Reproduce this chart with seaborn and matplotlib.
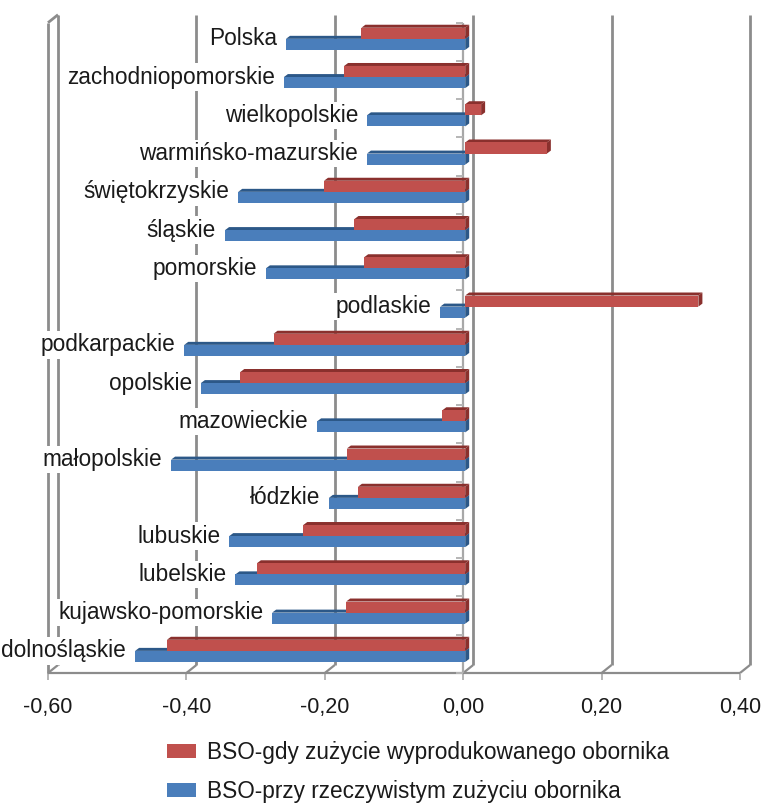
import matplotlib
matplotlib.use("Agg")
import numpy as np
import pandas as pd
import seaborn as sns
import matplotlib.pyplot as plt
from matplotlib.transforms import Affine2D, IdentityTransform
from matplotlib.patches import Polygon, Patch
from matplotlib.lines import Line2D

# Bilans substancji organicznej (BSO) by voivodeship
regions = ["Polska", "zachodniopomorskie", "wielkopolskie", "warmińsko-mazurskie",
           "świętokrzyskie", "śląskie", "pomorskie", "podlaskie", "podkarpackie",
           "opolskie", "mazowieckie", "małopolskie", "łódzkie", "lubuskie",
           "lubelskie", "kujawsko-pomorskie", "dolnośląskie"]
bso_produced = [-0.150, -0.175, 0.023, 0.118, -0.204, -0.160, -0.146, 0.337, -0.277,
                -0.325, -0.033, -0.171, -0.155, -0.234, -0.301, -0.172, -0.431]
bso_actual = [-0.259, -0.262, -0.142, -0.142, -0.328, -0.347, -0.288, -0.036, -0.406,
              -0.382, -0.214, -0.425, -0.197, -0.341, -0.332, -0.279, -0.477]
series_names = ["BSO-gdy zużycie wyprodukowanego obornika",
                "BSO-przy rzeczywistym zużyciu obornika"]
x_ticks = [-0.6, -0.4, -0.2, 0.0, 0.2, 0.4]
x_tick_labels = ["-0,60", "-0,40", "-0,20", "0,00", "0,20", "0,40"]

face_colors = {series_names[0]: "#C0504D", series_names[1]: "#4A7EBB"}
shade_colors = {series_names[0]: "#8A302D", series_names[1]: "#2C5888"}
grid_color = "#8C8C8C"
axis_color = "#A8A8A8"
text_color = "#1A1A1A"
FS_TICK = 15.5
FS_LABEL = 16.3

df = pd.DataFrame({
    "region": regions * 2,
    "value": bso_produced + bso_actual,
    "series": [series_names[0]] * len(regions) + [series_names[1]] * len(regions),
})

sns.set_theme(style="white")
plt.rcParams["font.family"] = ["Liberation Sans", "DejaVu Sans"]

W, H = 765, 805
fig = plt.figure(figsize=(W / 100, H / 100), dpi=100)
ax = fig.add_axes([48 / W, 1 - 673 / H, (740 - 48) / W, (673 - 22.7) / H])

sns.barplot(data=df, y="region", x="value", hue="series", orient="h",
            palette=face_colors, width=0.58, dodge=True, saturation=1,
            legend=False, linewidth=0, ax=ax)

n = len(regions)
ax.set_xlim(-0.6, 0.4)
ax.set_ylim(n - 0.5, -0.5)
for s in ax.spines.values():
    s.set_visible(False)
ax.set_xlabel("")
ax.set_ylabel("")
ax.set_yticks([])
ax.set_xticks(x_ticks)
ax.set_xticklabels(x_tick_labels, fontsize=FS_TICK, color=text_color)
ax.tick_params(axis="x", length=0, pad=17)
ax.patch.set_visible(False)
ax.grid(False)

ident = IdentityTransform()
BACK = np.array([10.0, 8.0])       # offset of the back wall, pixels
BAR_SHIFT = np.array([2.0, 3.0])   # bars sit slightly behind the front plane
DX, DY = 4.0, 3.0                  # bar depth, pixels


def disp(x, y, off=(0.0, 0.0)):
    return ax.transData.transform((x, y)) + np.asarray(off)


def seg(p, q, color, lw, z=1):
    ax.add_line(Line2D([p[0], q[0]], [p[1], q[1]], color=color, lw=lw,
                       transform=ident, zorder=z, clip_on=False,
                       solid_capstyle="butt"))


# back wall gridlines and floor
y_top, y_bot = -0.5, n - 0.5
for t in x_ticks:
    f_bot = disp(t, y_bot)
    b_bot = f_bot + BACK
    b_top = disp(t, y_top) + BACK
    seg(b_bot, b_top, grid_color, 2.0)
    seg(f_bot, b_bot, grid_color, 1.6)
    seg(f_bot, f_bot + np.array([0, -7]), "#B5B5B5", 1.4)
seg(disp(-0.6, y_bot), disp(0.4, y_bot), grid_color, 1.6)
# left wall
seg(disp(-0.6, y_bot), disp(-0.6, y_top), grid_color, 2.0)
seg(disp(-0.6, y_top), disp(-0.6, y_top) + BACK, grid_color, 2.0)

# category axis at zero
seg(disp(0, y_top), disp(0, y_bot), axis_color, 1.6, z=1.5)
for k in range(n + 1):
    p = disp(0, k - 0.5)
    seg(p, p + np.array([-7, 0]), "#B5B5B5", 1.4, z=1.5)

# bars with depth faces; the upper (red) bar is drawn over the lower one's top face
for ci, cont in enumerate(ax.containers):
    name = series_names[ci]
    z = 4 if ci == 0 else 3
    for rect in cont:
        rect.set_transform(ax.transData + Affine2D().translate(*BAR_SHIFT))
        rect.set_zorder(z)
        rect.set_clip_on(False)
        x0, w = rect.get_x(), rect.get_width()
        y0, h = rect.get_y(), rect.get_height()
        xl, yb = disp(min(x0, x0 + w), y0 + h, BAR_SHIFT)
        xr, yt = disp(max(x0, x0 + w), y0, BAR_SHIFT)
        top = Polygon([(xl, yt), (xr, yt), (xr + DX, yt + DY), (xl + DX, yt + DY)],
                      closed=True, transform=ident, facecolor=shade_colors[name],
                      edgecolor="none", zorder=z - 0.1, clip_on=False)
        side = Polygon([(xr, yb), (xr, yt), (xr + DX, yt + DY), (xr + DX, yb + DY)],
                       closed=True, transform=ident, facecolor=shade_colors[name],
                       edgecolor="none", zorder=z - 0.1, clip_on=False)
        ax.add_patch(top)
        ax.add_patch(side)

# region labels beside the bars
for i, r in enumerate(regions):
    xref = min(bso_produced[i], bso_actual[i], 0.0)
    ax.annotate(r, xy=(xref, i), xytext=(-7, 3), textcoords="offset pixels",
                ha="right", va="center", fontsize=FS_LABEL, color=text_color,
                annotation_clip=False, zorder=5,
                bbox=dict(boxstyle="square,pad=0.1", facecolor="white",
                          edgecolor="none"))

handles = [Patch(facecolor=face_colors[s], edgecolor="none") for s in series_names]
fig.legend(handles, series_names, loc="upper left",
           bbox_to_anchor=(167 / W, 1 - 741 / H), frameon=False, fontsize=FS_LABEL,
           handlelength=1.3, handleheight=0.6, handletextpad=0.45,
           labelspacing=0.7, borderpad=0, borderaxespad=0, labelcolor=text_color)

fig.savefig("out.png", dpi=100, facecolor="white")
